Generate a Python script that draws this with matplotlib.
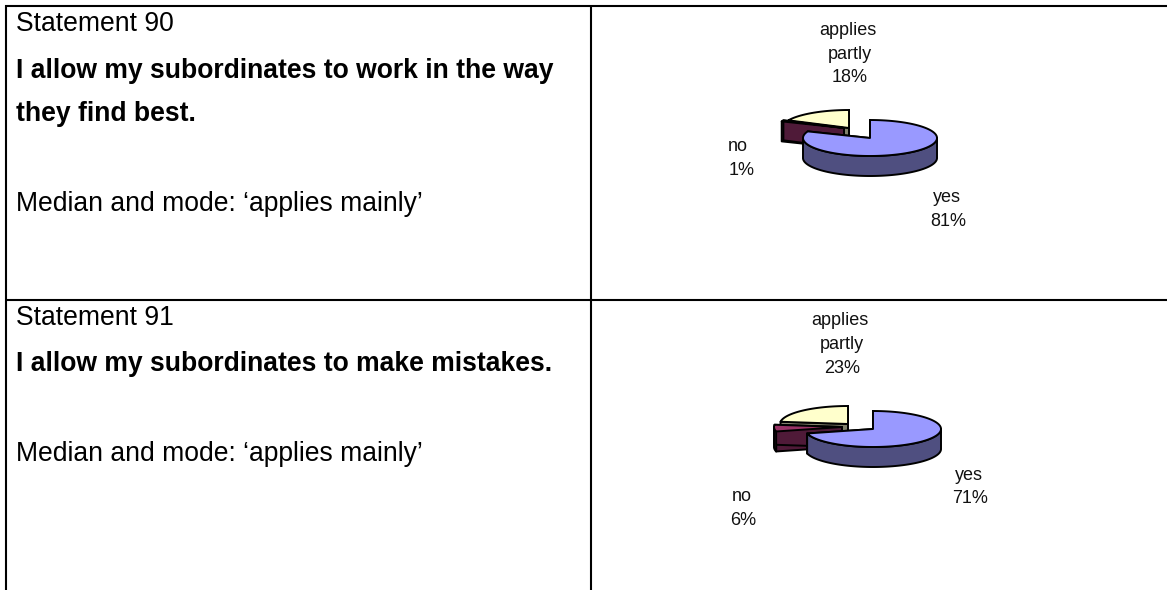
import numpy as np
import matplotlib
matplotlib.use("Agg")
import matplotlib.pyplot as plt
from matplotlib.patches import Polygon

W, H = 1167, 590
plt.rcParams['font.family'] = ['Liberation Sans', 'DejaVu Sans']

statements = ["Statement 90", "Statement 91"]
bold_lines = [["I allow my subordinates to work in the way", "they find best."],
              ["I allow my subordinates to make mistakes."]]
median_text = ["Median and mode: \u2018applies mainly\u2019", "Median and mode: \u2018applies mainly\u2019"]
categories = ["yes", "no", "applies\npartly"]
values_90 = [81, 1, 18]
values_91 = [71, 6, 23]

TOPS = ['#9999FF', '#993366', '#FFFFCC']
SIDES = ['#4F4F80', '#4F1A38', '#80806A']

fig = plt.figure(figsize=(W/100, H/100), dpi=100)
ax = fig.add_axes([0, 0, 1, 1])
ax.set_xlim(0, W); ax.set_ylim(H, 0); ax.axis('off')

# table rules
for y in (5.5, 300):
    ax.plot([5, W], [y, y], color='black', lw=1.5, solid_capstyle='butt')
for x in (6, 591):
    ax.plot([x, x], [5, H], color='black', lw=1.5, solid_capstyle='butt')

# left column
TS = 19.1
X0 = 16
ax.text(X0, 31, statements[0], fontsize=TS, va='baseline')
ax.text(X0, 78, bold_lines[0][0], fontsize=TS, weight='bold', va='baseline')
ax.text(X0, 121, bold_lines[0][1], fontsize=TS, weight='bold', va='baseline')
ax.text(X0, 211, median_text[0], fontsize=TS, va='baseline')
ax.text(X0, 325, statements[1], fontsize=TS, va='baseline')
ax.text(X0, 371, bold_lines[1][0], fontsize=TS, weight='bold', va='baseline')
ax.text(X0, 461, median_text[1], fontsize=TS, va='baseline')


def arc(c, rx, ry, a0, a1):
    """Clockwise-from-top angles in degrees to rim points."""
    t = np.radians(np.linspace(a0, a1, max(int(abs(a1 - a0)) + 2, 3)))
    return np.column_stack([c[0] + rx*np.sin(t), c[1] - ry*np.cos(t)])


def wedge(c, rx, ry, depth, a0, a1, top, side, z):
    rim = arc(c, rx, ry, a0, a1)
    ec = dict(edgecolor='black', lw=1.4, joinstyle='round')
    for a in (a0, a1):
        p = arc(c, rx, ry, a, a)[0]
        q = np.array([c, p, p + [0, depth], np.array(c) + [0, depth]])
        ax.add_patch(Polygon(q, closed=True, facecolor=side, zorder=z, **ec))
    lo, hi = max(a0, 90), min(a1, 270)
    if hi > lo:
        w = arc(c, rx, ry, lo, hi)
        ax.add_patch(Polygon(np.vstack([w, (w + [0, depth])[::-1]]), closed=True,
                             facecolor=side, zorder=z + .1, **ec))
    ax.add_patch(Polygon(np.vstack([c, rim]), closed=True, facecolor=top,
                         zorder=z + .2, **ec))


def pie(values, centers, rx, ry, depth):
    total = sum(values)
    a = 0.0
    spans = []
    for v in values:
        spans.append((a, a + 360.0*v/total))
        a += 360.0*v/total
    for i in (2, 1, 0):
        wedge(centers[i], rx, ry, depth, spans[i][0], spans[i][1], TOPS[i], SIDES[i], 5 + (2 - i))


pie(values_90, [(870, 138), (844, 128), (849, 128)], 67, 18, 20)
pie(values_91, [(873, 429), (842, 427), (848, 424)], 68, 18, 20)

LS = 13


def label(xs, ys, name, v):
    lines = name.split("\n") + [f"{v}%"]
    for x, y, s in zip(xs, ys, lines):
        ax.text(x, y, s, fontsize=LS, ha='center', va='baseline', color='#111111', zorder=10)


label([848, 850, 850], [35, 59, 82], categories[2], values_90[2])
label([738, 742], [151, 175], categories[1], values_90[1])
label([947, 948], [202, 226], categories[0], values_90[0])
label([840, 842, 842], [325, 349, 373], categories[2], values_91[2])
label([742, 743], [501, 525], categories[1], values_91[1])
label([969, 970], [480, 503], categories[0], values_91[0])

fig.savefig('out.png', dpi=100)
